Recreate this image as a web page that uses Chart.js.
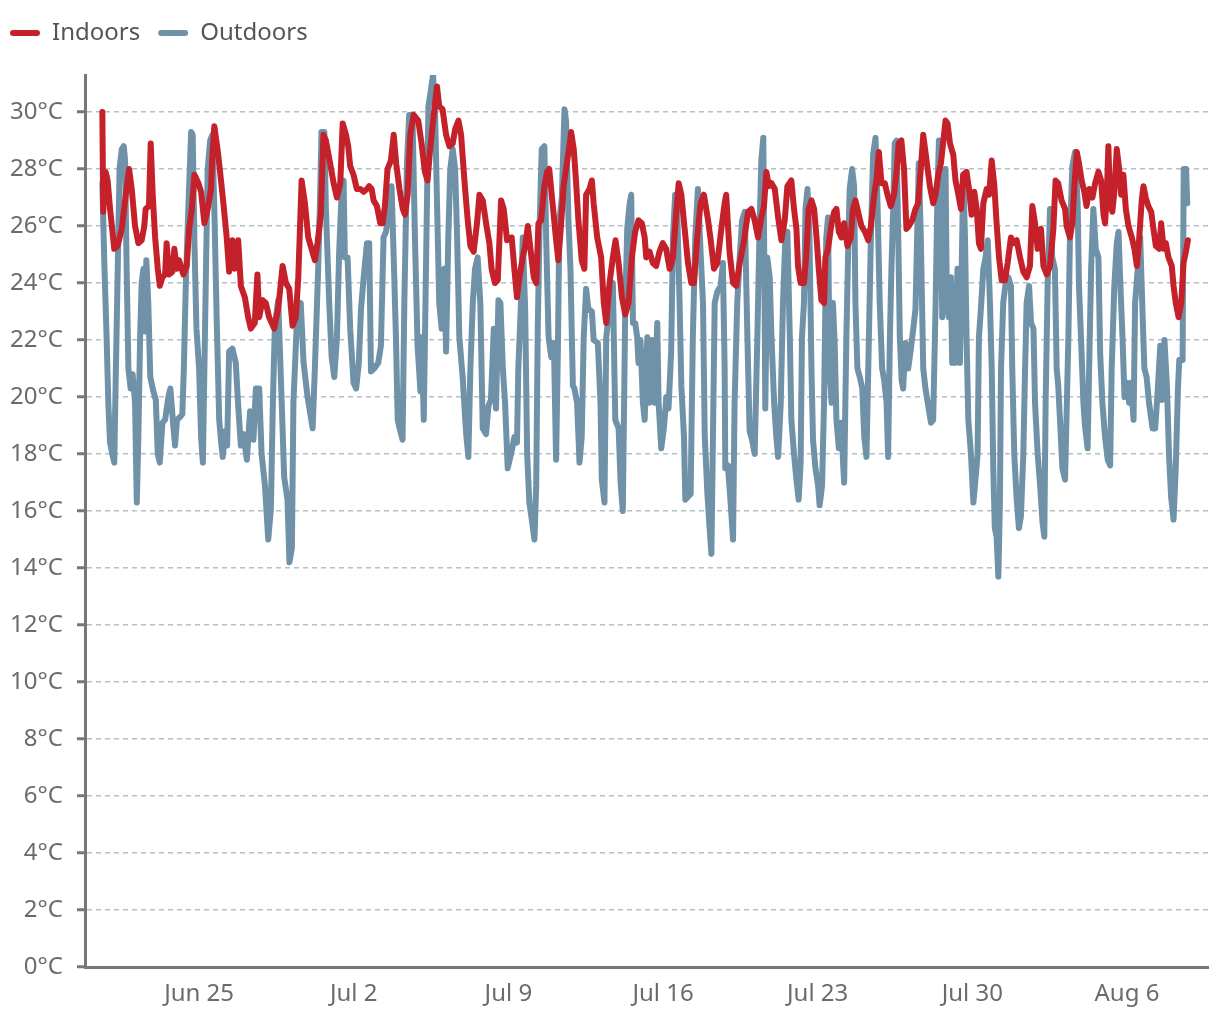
<!DOCTYPE html>
<html>
<head>
<meta charset="utf-8">
<script src="https://cdn.jsdelivr.net/npm/chart.js@4.4.1/dist/chart.umd.min.js"></script>
<style>
  html, body { margin: 0; padding: 0; background: #fff; }
  #wrap { width: 1220px; height: 1020px; }
</style>
</head>
<body>
<div id="wrap"><canvas id="grafico" width="1220" height="1020"></canvas></div>
<script>
// time is in days since Jun 20 00:00
const tickDays = [5, 12, 19, 26, 33, 40, 47];
const tickLabels = ['Jun 25', 'Jul 2', 'Jul 9', 'Jul 16', 'Jul 23', 'Jul 30', 'Aug 6'];

// [day, °C]
const indoors = [
  [0.62,30.0],[0.66,26.5],[0.77,27.9],[0.86,27.6],[0.97,26.6],[1.16,25.2],[1.31,25.3],[1.50,25.9],[1.68,27.1],[1.83,28.0],
  [1.95,27.3],[2.10,26.0],[2.25,25.4],[2.40,25.5],[2.52,26.0],[2.58,26.6],[2.73,26.7],[2.81,28.9],[2.90,27.1],[3.01,25.6],
  [3.13,24.5],[3.22,23.9],[3.34,24.2],[3.46,24.3],[3.53,25.4],[3.64,24.3],[3.79,24.4],[3.88,25.2],[3.99,24.5],[4.09,24.8],
  [4.29,24.3],[4.44,24.6],[4.55,25.9],[4.67,26.6],[4.79,27.8],[4.97,27.5],[5.09,27.2],[5.24,26.1],[5.39,26.6],[5.54,27.3],
  [5.60,28.5],[5.69,29.5],[5.85,28.6],[5.95,27.9],[6.10,26.8],[6.25,25.6],[6.36,24.4],
  [6.51,25.5],[6.61,24.5],[6.77,25.5],[6.89,23.9],[7.07,23.5],[7.22,22.8],[7.34,22.4],[7.52,22.6],[7.64,24.3],[7.72,22.8],
  [7.87,23.4],[8.02,23.3],[8.17,22.8],[8.40,22.4],[8.58,23.1],[8.78,24.6],[8.93,24.0],[9.08,23.8],[9.23,22.5],[9.38,22.8],
  [9.49,24.2],[9.64,27.6],[9.79,26.8],[9.94,25.6],[10.09,25.2],[10.24,24.8],[10.36,25.4],[10.51,26.4],[10.63,29.2],[10.74,29.0],
  [10.93,28.2],[11.09,27.5],[11.24,27.0],[11.39,27.5],[11.50,29.6],[11.65,29.2],[11.75,28.8],[11.84,28.1],[11.99,27.8],[12.14,27.3],
  [12.30,27.3],[12.45,27.2],
  [12.60,27.3],[12.70,27.4],[12.81,27.3],[12.90,26.9],[13.05,26.7],[13.20,26.1],[13.31,26.1],[13.41,26.7],[13.53,28.0],[13.68,28.3],
  [13.81,29.2],[13.92,28.2],[14.07,27.3],[14.22,26.6],[14.32,26.4],[14.44,27.1],[14.56,29.2],[14.71,29.9],[14.92,29.7],[15.07,28.9],
  [15.22,27.9],[15.34,27.6],[15.46,28.7],[15.65,30.1],[15.77,30.9],[15.87,30.2],[16.02,30.1],[16.18,29.2],[16.33,28.8],[16.48,28.9],
  [16.59,29.4],[16.74,29.7],[16.86,29.2],[17.01,27.6],[17.16,26.2],[17.28,25.3],[17.43,25.1],[17.58,26.1],[17.69,27.1],[17.84,26.9],
  [17.99,26.1],[18.14,25.4],[18.24,24.5],[18.39,24.0],[18.52,24.1],[18.67,26.9],[18.79,26.6],[18.94,25.5],
  [19.15,25.6],[19.27,24.5],[19.39,23.5],[19.50,24.2],[19.65,24.9],[19.76,25.3],[19.88,26.0],[20.00,25.2],[20.15,24.2],[20.26,24.0],
  [20.36,26.1],[20.48,26.2],[20.63,27.4],[20.75,27.9],[20.85,28.0],[21.00,26.8],[21.15,25.6],[21.26,24.8],[21.38,26.0],[21.50,27.4],
  [21.61,28.0],[21.76,28.8],[21.84,29.3],[21.96,28.7],[22.06,27.6],[22.17,26.2],[22.32,24.8],[22.44,24.5],[22.52,27.1],[22.67,27.3],
  [22.78,27.6],[22.86,26.8],[23.02,25.6],[23.20,24.9],[23.32,23.3],[23.43,22.6],[23.58,24.0],[23.73,24.9],[23.85,25.5],[23.99,24.7],
  [24.14,23.5],[24.29,22.9],[24.44,23.3],[24.59,24.9],[24.74,25.8],[24.89,26.2],[25.04,26.1],[25.17,25.6],[25.24,24.9],
  [25.39,25.1],[25.54,24.7],[25.69,24.6],[25.84,25.1],[25.99,25.4],[26.14,25.2],[26.30,24.5],[26.45,24.9],[26.60,26.5],[26.71,27.5],
  [26.83,27.1],[26.98,25.9],[27.13,24.7],[27.28,24.0],[27.40,24.0],[27.55,25.6],[27.70,26.8],[27.85,27.1],[28.04,26.2],[28.16,25.5],
  [28.31,24.5],[28.46,24.7],[28.64,25.9],[28.79,26.8],[28.86,27.1],[29.01,25.1],[29.17,24.0],[29.32,23.9],[29.47,24.7],[29.67,25.5],
  [29.85,26.5],[30.00,26.6],[30.15,26.2],[30.30,25.6],[30.45,26.3],[30.57,26.7],[30.68,27.9],[30.79,27.4],[30.91,27.5],[31.06,27.3],
  [31.21,26.3],[31.36,25.5],[31.51,26.2],
  [31.63,27.4],[31.81,27.6],[31.93,26.6],[32.04,25.9],[32.11,24.6],[32.23,24.0],[32.38,24.0],[32.48,24.9],[32.59,26.6],[32.72,26.9],
  [32.84,26.6],[32.95,25.6],[33.05,24.5],[33.17,23.4],[33.29,23.3],[33.35,24.9],[33.47,25.2],[33.63,26.1],[33.75,26.5],[33.85,26.6],
  [33.96,25.8],[34.08,25.6],[34.20,26.1],[34.35,25.3],[34.50,25.6],[34.60,26.6],[34.71,26.9],[34.83,26.5],[34.98,26.0],[35.14,25.8],
  [35.29,25.5],[35.41,26.0],[35.56,27.1],[35.66,27.6],[35.77,28.6],[35.89,27.5],[36.04,27.5],[36.16,27.1],[36.31,26.7],[36.46,27.1],
  [36.57,27.9],[36.67,28.9],[36.79,29.0],[36.91,28.0],[37.02,25.9],[37.13,26.0],[37.28,26.2],[37.43,26.6],[37.55,26.8],[37.67,28.0],
  [37.78,29.2],
  [37.98,28.0],[38.08,27.4],[38.23,26.8],[38.34,27.1],[38.46,27.8],[38.58,28.2],[38.69,29.0],[38.79,29.7],[38.88,29.6],[38.99,28.9],
  [39.14,28.5],[39.24,27.6],[39.37,27.1],[39.49,26.6],[39.59,27.8],[39.74,27.9],[39.85,27.3],[39.97,26.4],[40.09,27.2],[40.20,26.6],
  [40.30,25.4],[40.39,25.2],[40.50,26.8],[40.65,27.3],[40.76,27.1],[40.88,28.3],[41.00,27.4],[41.10,26.1],[41.21,24.9],[41.33,24.1],
  [41.48,24.1],[41.60,24.7],[41.75,25.6],[41.86,25.4],[42.01,25.5],[42.16,24.9],[42.31,24.4],[42.46,24.2],[42.61,24.6],[42.72,26.7],
  [42.84,26.1],[42.96,25.2],[43.11,25.9],[43.22,24.6],[43.37,24.3],[43.52,24.6],[43.67,25.9],[43.77,27.6],[43.89,27.5],[44.04,26.9],
  [44.20,26.6],
  [44.27,26.0],[44.42,25.6],[44.53,26.1],[44.62,27.4],[44.73,28.6],[44.83,28.2],[44.95,27.6],[45.07,27.2],[45.17,26.7],[45.29,27.3],
  [45.44,27.0],[45.56,27.5],[45.71,27.9],[45.83,27.6],[45.94,26.4],[46.01,26.1],[46.09,27.1],[46.16,28.8],[46.24,26.8],[46.34,26.5],
  [46.43,27.2],[46.54,28.7],[46.65,28.0],[46.74,27.1],[46.84,27.8],[46.95,26.6],[47.07,26.0],[47.22,25.6],[47.34,25.2],[47.45,24.6],
  [47.55,25.5],[47.67,26.9],[47.75,27.4],[47.85,27.0],[47.97,26.7],[48.10,26.5],[48.20,25.9],[48.31,25.3],[48.46,25.2],[48.55,26.1],
  [48.66,25.2],[48.76,25.4],[48.88,24.9],[49.03,24.6],[49.11,23.9],[49.21,23.3],[49.34,22.8],[49.46,23.3],[49.56,24.7],[49.67,25.1],
  [49.76,25.5]
];

// [day, °C]
const outdoors = [
  [0.62,27.5],[0.71,24.7],[0.82,21.9],[0.89,19.8],[0.97,18.4],[1.07,18.0],[1.16,17.7],[1.22,20.4],[1.31,24.2],[1.40,28.0],
  [1.50,28.7],[1.59,28.8],[1.65,28.3],[1.72,24.5],[1.80,21.0],[1.90,20.3],[1.99,20.8],[2.10,19.8],[2.18,16.3],[2.25,18.6],
  [2.33,22.1],[2.40,24.0],[2.48,24.5],[2.55,22.3],[2.61,24.8],[2.70,23.3],[2.79,20.7],[2.93,20.2],[3.04,19.9],[3.13,18.0],
  [3.22,17.7],[3.34,19.1],[3.46,19.2],[3.61,20.0],[3.70,20.3],[3.82,19.1],[3.91,18.3],[4.00,19.2],[4.14,19.3],[4.24,19.4],
  [4.31,21.0],[4.40,24.0],[4.52,26.8],[4.64,29.3],[4.71,29.2],[4.79,25.4],[4.88,22.4],[5.00,21.0],[5.09,18.6],[5.17,17.7],
  [5.24,21.0],[5.32,24.9],[5.39,28.0],[5.50,29.0],[5.60,29.2],[5.69,26.6],[5.80,22.6],[5.91,19.2],[6.00,18.4],[6.07,17.9],
  [6.18,18.8],[6.27,18.3],[6.36,21.6],
  [6.51,21.7],[6.66,21.2],[6.77,19.7],[6.89,18.3],[7.01,18.7],[7.16,17.8],[7.31,19.5],[7.46,18.5],[7.57,20.3],[7.72,20.3],
  [7.83,18.0],[7.98,16.9],[8.13,15.0],[8.25,16.1],[8.34,19.8],[8.43,22.5],[8.58,23.4],[8.74,19.8],[8.85,17.2],[9.00,16.4],
  [9.09,14.2],[9.20,14.7],[9.27,19.8],[9.45,23.1],[9.60,23.3],[9.73,21.2],[9.91,20.0],[10.14,18.9],[10.24,21.0],[10.39,24.5],
  [10.48,27.1],[10.54,29.3],[10.67,29.3],[10.74,26.6],[10.89,23.3],[11.00,21.4],[11.12,20.7],[11.24,22.1],[11.34,25.1],[11.45,27.1],
  [11.54,27.6],[11.60,24.9],[11.72,24.9],[11.84,22.4],[11.99,20.5],[12.11,20.3],[12.23,21.2],[12.33,23.1],[12.45,24.2],[12.60,25.4],
  [12.70,25.4],[12.78,20.9],[12.93,21.0],[13.11,21.2],[13.23,21.8],[13.35,25.6],[13.46,25.8],[13.61,26.6],[13.71,27.4],[13.81,24.9],
  [13.91,22.1],[13.99,19.2],[14.11,18.8],[14.21,18.5],[14.29,23.3],[14.41,28.2],[14.51,29.9],[14.66,29.9],[14.77,25.6],[14.89,21.8],
  [15.02,20.2],[15.08,22.1],[15.17,19.2],[15.27,24.5],[15.38,30.2],[15.50,30.8],[15.59,31.3],[15.68,30.1],[15.77,26.8],[15.87,23.3],
  [15.98,22.4],[16.10,24.5],[16.18,21.6],[16.28,25.6],[16.37,28.0],[16.48,28.7],[16.59,28.0],[16.68,25.6],[16.78,22.1],[16.93,20.7],
  [17.09,18.7],[17.19,17.9],[17.28,21.0],[17.39,23.3],[17.49,24.5],[17.61,24.9],[17.73,23.3],[17.84,18.9],[17.99,18.7],[18.10,19.7],
  [18.21,19.9],[18.34,22.4],[18.44,19.6],[18.55,23.4],[18.64,23.3],[18.75,21.0],[18.85,19.8],[18.97,17.5],
  [19.15,18.1],[19.27,18.6],[19.39,18.4],[19.45,21.0],[19.57,23.3],[19.65,25.6],[19.76,23.1],[19.85,18.0],[19.95,16.3],[20.06,15.7],
  [20.18,15.0],[20.26,16.9],[20.33,22.4],[20.41,25.9],[20.51,28.7],[20.63,28.8],[20.71,25.6],[20.82,22.1],[20.94,21.4],[21.06,21.9],
  [21.16,17.8],[21.24,21.6],[21.31,26.2],[21.42,27.0],[21.54,30.1],[21.61,29.7],[21.72,26.2],[21.81,24.5],[21.92,20.4],[21.99,20.3],
  [22.11,19.8],[22.22,17.7],[22.32,18.6],[22.41,22.1],[22.52,23.8],[22.62,23.1],[22.78,23.0],[22.86,22.0],[23.05,21.9],[23.17,19.8],
  [23.23,17.1],[23.35,16.3],[23.43,22.1],[23.58,23.1],[23.73,24.0],[23.84,19.2],[23.99,18.9],[24.08,17.0],[24.18,16.0],[24.29,23.1],
  [24.38,25.9],[24.49,26.8],[24.56,27.1],[24.64,22.6],[24.74,22.6],[24.83,22.1],[24.89,21.2],[24.98,22.0],[25.09,19.8],[25.17,19.2],
  [25.29,22.1],
  [25.39,19.8],[25.50,22.0],[25.62,19.8],[25.74,22.6],[25.80,19.8],[25.92,18.2],[26.04,18.9],[26.15,20.0],[26.25,19.6],[26.37,21.6],
  [26.45,25.6],[26.55,27.1],[26.64,26.6],[26.75,23.3],[26.83,20.4],[26.95,18.6],[27.01,16.4],[27.13,16.5],[27.25,16.6],[27.35,22.1],
  [27.46,25.6],[27.58,27.3],[27.70,25.1],[27.81,23.3],[27.89,18.6],[28.01,16.6],[28.11,15.4],[28.19,14.5],[28.26,18.6],[28.34,23.3],
  [28.46,23.7],[28.61,23.9],[28.71,24.7],[28.79,21.0],[28.82,17.5],[28.94,17.6],[29.06,16.3],[29.17,15.0],[29.24,19.8],[29.36,23.3],
  [29.47,24.9],[29.58,26.2],[29.70,26.5],[29.82,22.1],[29.92,18.8],[30.03,18.5],[30.15,18.0],[30.27,22.1],[30.38,26.2],[30.45,28.3],
  [30.54,29.1],[30.60,23.3],[30.63,19.6],[30.72,24.9],[30.83,24.2],[30.91,22.1],[31.03,19.8],[31.13,18.6],[31.21,17.9],[31.33,19.8],
  [31.43,23.3],[31.54,25.6],
  [31.63,25.8],[31.74,22.1],[31.81,19.2],[31.93,18.0],[32.04,17.1],[32.14,16.4],[32.23,17.7],[32.29,22.1],[32.38,23.3],[32.45,26.6],
  [32.54,27.3],[32.63,25.6],[32.72,21.0],[32.79,18.5],[32.90,17.5],[33.02,16.9],[33.09,16.2],[33.20,16.9],[33.29,19.8],[33.39,25.6],
  [33.47,26.3],[33.54,21.0],[33.63,19.8],[33.69,23.3],[33.77,21.9],[33.85,19.2],[33.96,18.2],[34.08,19.1],[34.15,17.7],[34.20,17.0],
  [34.30,22.1],[34.38,25.1],[34.45,27.3],[34.56,28.0],[34.65,27.4],[34.71,23.3],[34.80,21.0],[34.91,20.7],[35.02,20.3],[35.11,18.6],
  [35.21,17.9],[35.32,22.1],[35.41,25.6],[35.51,28.5],[35.62,29.1],[35.71,26.8],[35.81,23.3],[35.92,21.0],[36.01,20.6],[36.12,19.8],
  [36.19,17.9],[36.27,22.1],[36.34,24.5],[36.42,26.6],[36.49,28.9],[36.57,29.0],[36.65,25.6],[36.72,22.1],[36.80,20.6],[36.87,20.3],
  [36.98,21.9],[37.10,21.0],[37.22,21.7],[37.33,22.4],[37.43,23.1],[37.52,26.2],[37.58,28.2],[37.67,25.6],[37.78,21.0],[37.88,20.3],
  [38.13,19.1],[38.23,19.2],[38.34,23.3],[38.43,27.4],[38.49,29.0],[38.58,26.8],[38.64,22.8],[38.73,24.9],[38.79,28.0],[38.85,23.3],
  [38.94,22.8],[39.03,24.2],[39.09,21.2],[39.21,21.2],[39.33,24.5],[39.44,21.2],[39.52,24.5],[39.59,27.8],[39.67,25.6],[39.74,22.1],
  [39.82,19.2],[39.94,18.0],[40.05,16.3],[40.12,16.9],[40.24,18.0],[40.30,22.1],[40.39,23.1],[40.50,24.5],[40.60,24.9],[40.70,25.5],
  [40.80,23.3],[40.88,21.0],[40.95,17.5],[41.02,15.4],[41.10,15.1],[41.18,13.7],[41.25,16.3],[41.30,21.0],[41.40,23.3],[41.51,24.0],
  [41.63,24.2],[41.75,23.9],[41.81,21.0],[41.90,18.0],[42.01,16.4],[42.11,15.4],[42.20,15.8],[42.31,18.0],[42.39,21.0],[42.46,23.3],
  [42.57,23.9],[42.66,22.6],[42.77,22.4],[42.84,19.8],[42.96,18.0],[43.07,16.9],[43.18,15.6],[43.26,15.1],[43.32,19.8],[43.41,23.9],
  [43.52,26.6],[43.62,24.9],[43.74,24.5],[43.82,21.0],[43.89,20.4],[43.97,19.2],[44.08,17.5],[44.20,17.1],
  [44.35,22.1],[44.42,25.6],[44.53,28.1],[44.65,28.6],[44.77,26.8],[44.83,23.9],[44.92,22.1],[45.03,19.8],[45.10,19.0],[45.22,18.2],
  [45.29,21.0],[45.38,24.5],[45.48,26.6],[45.59,25.2],[45.71,24.9],[45.79,21.5],[45.89,19.8],[46.01,18.6],[46.13,17.8],[46.24,17.6],
  [46.31,21.0],[46.43,23.9],[46.54,25.4],[46.62,25.8],[46.69,24.2],[46.80,22.1],[46.89,20.0],[47.00,20.5],[47.10,19.8],[47.19,20.5],
  [47.30,19.2],[47.37,23.3],[47.49,24.5],[47.60,25.6],[47.70,23.1],[47.79,21.0],[47.89,20.7],[48.00,19.8],[48.16,18.9],[48.28,18.9],
  [48.40,20.3],[48.51,21.8],[48.58,19.9],[48.70,22.0],[48.81,20.4],[48.91,17.9],[49.00,16.5],[49.11,15.7],[49.21,17.5],[49.31,20.3],
  [49.37,21.3],[49.52,21.3],[49.57,28.0],[49.68,28.0],[49.73,26.8]
];

const toPoints = rows => rows.map(([d, t]) => ({ x: d, y: t }));

const fontFamily = "'Noto Sans', 'DejaVu Sans', sans-serif";

// push the plot area down below the legend
const legendGap = {
  id: 'legendGap',
  beforeInit(chart) {
    const fit = chart.legend.fit;
    chart.legend.fit = function () {
      fit.call(this);
      this.height += 20;
    };
  }
};

const ctx = document.getElementById('grafico').getContext('2d');

const chart = new Chart(ctx, {
  type: 'line',
  data: {
    datasets: [
      {
        label: 'Indoors',
        data: toPoints(indoors),
        borderColor: '#c4212a',
        backgroundColor: '#c4212a',
        borderWidth: 6,
        pointRadius: 0,
        tension: 0,
        borderJoinStyle: 'round',
        borderCapStyle: 'round'
      },
      {
        label: 'Outdoors',
        data: toPoints(outdoors),
        borderColor: '#7092a8',
        backgroundColor: '#7092a8',
        borderWidth: 6,
        pointRadius: 0,
        tension: 0,
        borderJoinStyle: 'round',
        borderCapStyle: 'round'
      }
    ]
  },
  options: {
    responsive: false,
    animation: false,
    layout: { padding: { top: 3, left: -8, right: 12, bottom: 0 } },
    plugins: {
      legend: {
        position: 'top',
        align: 'start',
        labels: {
          boxWidth: 30,
          boxHeight: 6,
          padding: 18,
          useBorderRadius: true,
          borderRadius: 3,
          color: '#555',
          font: { family: fontFamily, size: 24 },
          generateLabels: c => Chart.defaults.plugins.legend.labels.generateLabels(c)
            .map(item => ({ ...item, lineWidth: 0 }))
        }
      },
      tooltip: { enabled: false }
    },
    scales: {
      x: {
        type: 'linear',
        min: -0.165,
        max: 50.67,
        grid: { display: false, drawTicks: false },
        border: { display: true, color: '#777', width: 3 },
        afterBuildTicks: s => { s.ticks = tickDays.map(v => ({ value: v })); },
        afterFit: s => { s.height = 53; },
        ticks: {
          autoSkip: false,
          maxRotation: 0,
          padding: 13,
          color: '#6b6b6b',
          font: { family: fontFamily, size: 24 },
          callback: v => tickLabels[tickDays.indexOf(v)] || ''
        }
      },
      y: {
        min: 0,
        max: 31.3,
        afterFit: s => { s.width = 93; },
        grid: {
          color: '#b3c0c8',
          lineWidth: 1.5,
          tickColor: '#777',
          tickWidth: 3,
          tickLength: 8
        },
        border: { display: true, color: '#777', width: 3, dash: [5, 4] },
        ticks: {
          stepSize: 2,
          includeBounds: false,
          padding: 14,
          color: '#6b6b6b',
          font: { family: fontFamily, size: 24 },
          callback: v => v + '°C'
        }
      }
    }
  },
  plugins: [legendGap]
});
</script>
</body>
</html>
